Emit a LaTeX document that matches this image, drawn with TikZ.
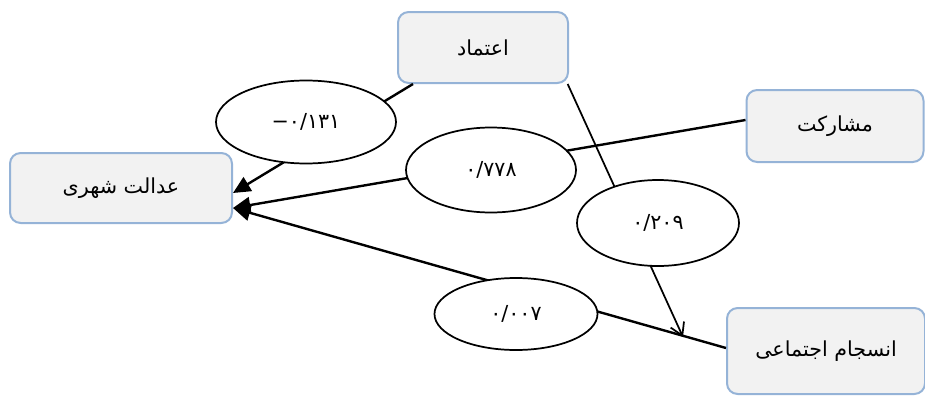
\documentclass[tikz,border=0pt]{standalone}
\usepackage{fontspec}
\TeXXeTstate=1
\newfontfamily\arabicfont[Script=Arabic]{DejaVu Sans}
\newfontfamily\numfont{DejaVu Sans}
\usetikzlibrary{arrows.meta,shapes.geometric}
\definecolor{boxfill}{HTML}{F2F2F2}
\definecolor{boxline}{HTML}{95B3D7}
\begin{document}
\begin{tikzpicture}[x=0.75pt,y=-0.75pt,
  box/.style={draw=boxline, fill=boxfill, line width=1.5pt, rounded corners=8pt,
    inner sep=0pt, font=\arabicfont\fontsize{15.5}{18}\selectfont},
  coef/.style={ellipse, draw, line width=1.3pt, fill=white, inner sep=0pt,
    font=\numfont\fontsize{15.5}{18}\selectfont},
  link/.style={line width=1.8pt},
  arr/.style={link, -{Triangle[length=13pt,width=12pt]}},
  barb/.style={line width=1.3pt, -{Straight Barb[length=9pt,width=11pt]}}]
\useasboundingbox (0,0) rectangle (925,396);
% boxes
\node[box, minimum width=166.5pt, minimum height=52.5pt] (just) at (121,188) {\beginR عدالت شهری\endR};
\node[box, minimum width=127.5pt, minimum height=53.25pt] (trust) at (483,47.5) {\beginR اعتماد\endR};
\node[box, minimum width=132.75pt, minimum height=54pt] (part) at (835,126) {\beginR مشارکت\endR};
\node[box, minimum width=148.5pt, minimum height=64.5pt] (coh) at (826,351) {\beginR انسجام اجتماعی\endR};
% connectors
\coordinate (tip) at (683,337);
\draw[arr] ([xshift=12pt]trust.south west) -- ([yshift=-3.75pt]just.east);
\draw[arr] ([yshift=4.5pt]part.west) -- ([yshift=-15pt]just.east);
\draw[arr] ([yshift=2.25pt]coh.west) -- ([yshift=-15pt]just.east);
\draw[barb] ([xshift=-1pt]trust.south east) -- (tip);
% coefficients
\node[coef, minimum width=135pt, minimum height=62.25pt] (e1) at (306,122) {−۰/۱۳۱};
\node[coef, minimum width=127.5pt, minimum height=63.75pt] (e2) at (491,170) {۰/۷۷۸};
\node[coef, minimum width=121.5pt, minimum height=64.5pt] (e3) at (658,223) {۰/۲۰۹};
\node[coef, minimum width=122.25pt, minimum height=54pt] (e4) at (516,314) {۰/۰۰۷};
\end{tikzpicture}
\end{document}
